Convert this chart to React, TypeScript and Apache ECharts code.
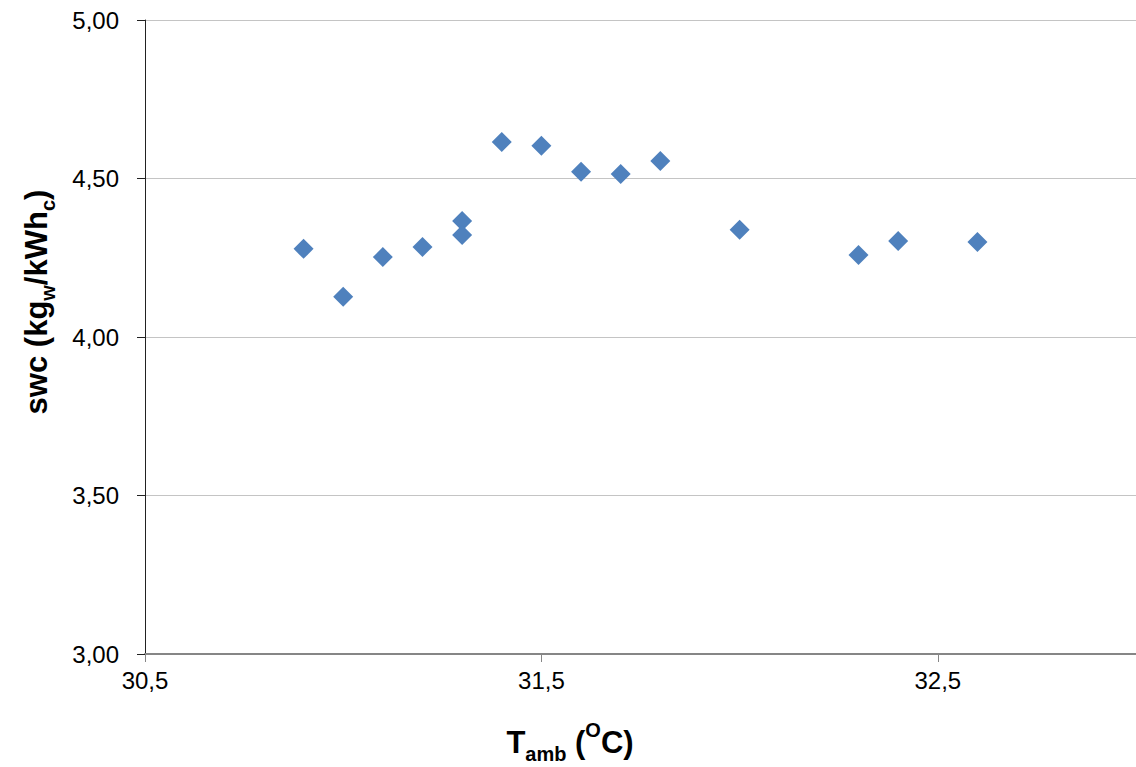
import React, { useEffect, useRef } from "react";
import * as echarts from "echarts";

const tAmb: number[] = [30.9, 31.0, 31.1, 31.2, 31.3, 31.3, 31.4, 31.5, 31.6, 31.7, 31.8, 32.0, 32.3, 32.4, 32.6];
const swc: number[] = [4.278, 4.127, 4.252, 4.284, 4.366, 4.322, 4.615, 4.603, 4.521, 4.514, 4.555, 4.338, 4.259, 4.303, 4.300];
const yTicks: number[] = [3.0, 3.5, 4.0, 4.5, 5.0];
const xTicks: number[] = [30.5, 31.5, 32.5];

const FONT = "'Liberation Sans', Arial, sans-serif";

export default function App() {
  const ref = useRef<HTMLDivElement>(null);
  useEffect(() => {
    document.body.style.margin = "0";
    const chart = echarts.init(ref.current!, null, { renderer: "svg" });
    const titleRich = {
      t: { fontFamily: FONT, fontWeight: "bold", fontSize: 31, color: "#000", lineHeight: 44, verticalAlign: "middle" },
      s: { fontFamily: FONT, fontWeight: "bold", fontSize: 20, color: "#000", lineHeight: 20, verticalAlign: "bottom" },
      p: { fontFamily: FONT, fontWeight: "bold", fontSize: 20, color: "#000", lineHeight: 26, verticalAlign: "top" },
    };
    chart.setOption({
      animation: false,
      backgroundColor: "#fff",
      grid: { left: 145, top: 20, right: 0, bottom: 113, containLabel: false },
      xAxis: {
        type: "value",
        min: xTicks[0],
        max: 33,
        interval: 1,
        axisLine: { show: true, lineStyle: { color: "#868686", width: 2 } },
        axisTick: { show: true, inside: false, length: 8, lineStyle: { color: "#868686", width: 1 } },
        splitLine: { show: false },
        axisLabel: {
          margin: 14,
          fontFamily: FONT,
          fontSize: 24,
          color: "#000",
          showMaxLabel: false,
          formatter: (v: number) => (xTicks.some((t) => Math.abs(t - v) < 1e-6) ? v.toFixed(1).replace(".", ",") : ""),
        },
      },
      yAxis: {
        type: "value",
        min: yTicks[0],
        max: yTicks[yTicks.length - 1],
        interval: 0.5,
        axisLine: { show: true, lineStyle: { color: "#222", width: 1 } },
        axisTick: { show: true, inside: false, length: 8, lineStyle: { color: "#222", width: 1 } },
        splitLine: { show: true, lineStyle: { color: "#c4c4c4", width: 1 } },
        axisLabel: {
          margin: 26,
          fontFamily: FONT,
          fontSize: 24,
          color: "#000",
          formatter: (v: number) => v.toFixed(2).replace(".", ","),
        },
      },
      series: [
        {
          type: "scatter",
          symbol: "diamond",
          symbolSize: 20,
          itemStyle: { color: "#4f81bd", opacity: 1 },
          data: tAmb.map((x, i) => [x, swc[i]]),
          z: 3,
        },
      ],
      graphic: [
        {
          type: "text",
          x: 570,
          y: 742,
          style: {
            text: "{t|T}{s|amb}{t| (}{p|O}{t|C)}",
            rich: titleRich,
            align: "center",
            verticalAlign: "middle",
          },
        },
        {
          type: "text",
          x: 36,
          y: 302,
          rotation: Math.PI / 2,
          style: {
            text: "{t|swc (kg}{s|w}{t|/kWh}{s|c}{t|)}",
            rich: titleRich,
            align: "center",
            verticalAlign: "middle",
          },
        },
      ],
    });
    return () => chart.dispose();
  }, []);
  return <div ref={ref} style={{ position: "fixed", left: 0, top: 0, width: 1136, height: 767 }} />;
}
